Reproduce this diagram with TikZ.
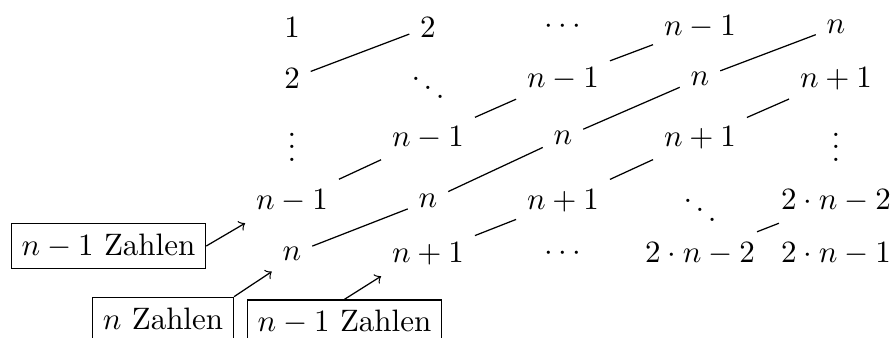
\documentclass[tikz,border=0pt]{standalone}
\begin{document}
\begin{tikzpicture}[x=0.32258pt, y=-0.32258pt,
  cell/.style={inner sep=3.333pt},
  box/.style={draw, inner sep=3.333pt},
  link/.style={},
  arr/.style={->}]
\useasboundingbox (0,0) rectangle (895,337);
% row 1
\node[cell] (r1c1) at (292,27) {$1$};
\node[cell] (r1c2) at (428,27) {$2$};
\node[cell] (r1c3) at (563,27) {$\cdots$};
\node[cell] (r1c4) at (700,27) {$n-1$};
\node[cell] (r1c5) at (836,27) {$n$};
% row 2
\node[cell] (r2c1) at (292,78.5) {$2$};
\node[cell] (r2c2) at (428,78.5) {$\ddots$};
\node[cell] (r2c3) at (563,78.5) {$n-1$};
\node[cell] (r2c4) at (700,78.5) {$n$};
\node[cell] (r2c5) at (836,78.5) {$n+1$};
% row 3
\node[cell] (r3c1) at (292,138) {$\vdots$};
\node[cell] (r3c2) at (428,138) {$n-1$};
\node[cell] (r3c3) at (563,138) {$n$};
\node[cell] (r3c4) at (700,138) {$n+1$};
\node[cell] (r3c5) at (836,138) {$\vdots$};
% row 4
\node[cell] (r4c1) at (292,201) {$n-1$};
\node[cell] (r4c2) at (428,201) {$n$};
\node[cell] (r4c3) at (563,201) {$n+1$};
\node[cell] (r4c4) at (700,201) {$\ddots$};
\node[cell] (r4c5) at (836,201) {$2\cdot n-2$};
% row 5
\node[cell] (r5c1) at (292,254) {$n$};
\node[cell] (r5c2) at (428,254) {$n+1$};
\node[cell] (r5c3) at (563,254) {$\cdots$};
\node[cell] (r5c4) at (700,254) {$2\cdot n-2$};
\node[cell] (r5c5) at (836,254) {$2\cdot n-1$};
% diagonal links
\draw[link] (r2c1) -- (r1c2);
\draw[link] (r3c2) -- (r2c3);
\draw[link] (r2c3) -- (r1c4);
\draw[link] (r2c4) -- (r1c5);
\draw[link] (r3c3) -- (r2c4);
\draw[link] (r3c4) -- (r2c5);
\draw[link] (r4c1) -- (r3c2);
\draw[link] (r4c2) -- (r3c3);
\draw[link] (r4c3) -- (r3c4);
\draw[link] (r5c1) -- (r4c2);
\draw[link] (r5c2) -- (r4c3);
\draw[link] (r5c4) -- (r4c5);
% boxes
\node[box] (bA) at (108.5,246) {$n-1$ Zahlen};
\node[box] (bB) at (163,318.5) {$n$ Zahlen};
\node[box] (bC) at (344.5,322.3) {$n-1$ Zahlen};
\draw[arr] (bA.east) -- (r4c1.south west);
\draw[arr] (bB.north east) -- (r5c1.south west);
\draw[arr] (bC.north) -- (r5c2.south west);
\end{tikzpicture}
\end{document}
